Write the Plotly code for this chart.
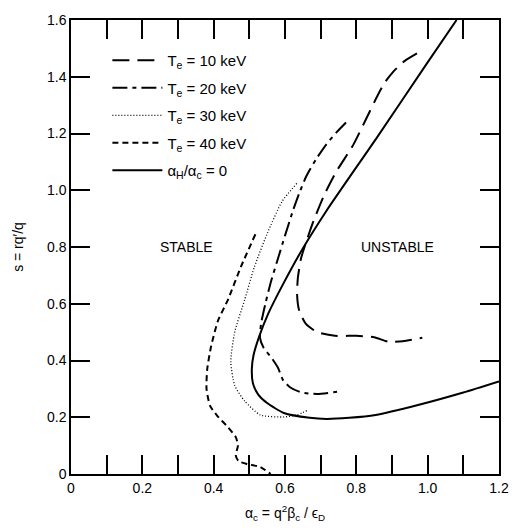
import plotly.graph_objects as go

# Stability boundaries in the (alpha_c, s) plane
te10_alpha = [0.970, 0.935, 0.905, 0.880, 0.860, 0.827, 0.791, 0.744, 0.711, 0.680, 0.660, 0.645,
              0.636, 0.634, 0.640, 0.658, 0.690, 0.740, 0.800, 0.850, 0.890, 0.930, 0.985]
te10_s = [1.482, 1.455, 1.420, 1.380, 1.335, 1.250, 1.159, 1.066, 0.986, 0.892, 0.820, 0.760,
          0.690, 0.630, 0.575, 0.530, 0.500, 0.487, 0.487, 0.482, 0.466, 0.468, 0.480]

te20_alpha = [0.771, 0.745, 0.715, 0.688, 0.660, 0.640, 0.622, 0.600, 0.578, 0.560, 0.545,
              0.533, 0.530, 0.540, 0.562, 0.580, 0.595, 0.615, 0.645, 0.690, 0.760]
te20_s = [1.239, 1.205, 1.160, 1.111, 1.050, 0.990, 0.927, 0.840, 0.750, 0.675, 0.600,
          0.530, 0.480, 0.445, 0.410, 0.375, 0.330, 0.305, 0.288, 0.282, 0.292]

te30_alpha = [0.633, 0.592, 0.550, 0.514, 0.487, 0.459, 0.448, 0.459, 0.487, 0.531, 0.597, 0.633, 0.666]
te30_s = [1.024, 0.961, 0.847, 0.729, 0.614, 0.500, 0.396, 0.312, 0.257, 0.208, 0.201, 0.208, 0.226]

te40_alpha = [0.517, 0.476, 0.440, 0.412, 0.393, 0.382, 0.380, 0.390, 0.410, 0.440, 0.462,
              0.468, 0.462, 0.470, 0.495, 0.530, 0.560]
te40_s = [0.845, 0.729, 0.614, 0.540, 0.451, 0.370, 0.300, 0.240, 0.205, 0.165, 0.130,
          0.100, 0.066, 0.045, 0.035, 0.025, 0.000]

ideal_alpha = [1.081, 0.998, 0.860, 0.716, 0.650, 0.595, 0.553, 0.528, 0.512, 0.507, 0.510,
               0.525, 0.550, 0.597, 0.669, 0.716, 0.780, 0.854, 0.973, 1.100, 1.200]
ideal_s = [1.600, 1.447, 1.190, 0.927, 0.795, 0.670, 0.565, 0.486, 0.420, 0.370, 0.320,
           0.280, 0.250, 0.215, 0.198, 0.194, 0.198, 0.208, 0.243, 0.287, 0.326]

x_ticks = [round(0.1 * i, 1) for i in range(13)]
x_ticktext = ["0", "", "0.2", "", "0.4", "", "0.6", "", "0.8", "", "1.0", "", "1.2"]
y_ticks = [round(0.2 * i, 1) for i in range(9)]
y_ticktext = ["0", "0.2", "0.4", "0.6", "0.8", "1.0", "1.2", "1.4", "1.6"]

FONT = "Liberation Sans"
INK = "black"

series = [
    ("T<sub>e</sub> = 10 keV", te10_alpha, te10_s, dict(width=2, dash="17px,8px")),
    ("T<sub>e</sub> = 20 keV", te20_alpha, te20_s, dict(width=2, dash="15px,5px,4px,5px")),
    ("T<sub>e</sub> = 30 keV", te30_alpha, te30_s, dict(width=1.3, dash="1px,2px")),
    ("T<sub>e</sub> = 40 keV", te40_alpha, te40_s, dict(width=2, dash="6px,4px")),
    ("α<sub>H</sub>/α<sub>c</sub> = 0", ideal_alpha, ideal_s, dict(width=2, dash="solid")),
]

fig = go.Figure()
for i, (name, xs, ys, line) in enumerate(series):
    fig.add_trace(go.Scatter(
        x=xs, y=ys, mode="lines", name=name, legendgroup=f"g{i}",
        line=dict(color=INK, shape="spline", smoothing=0.6, **line),
    ))

fig.add_annotation(x=0.325, y=0.80, text="STABLE", showarrow=False,
                   font=dict(family=FONT, size=14, color=INK))
fig.add_annotation(x=0.915, y=0.80, text="UNSTABLE", showarrow=False,
                   font=dict(family=FONT, size=14, color=INK))

axis_common = dict(
    showgrid=False, zeroline=False, showline=True, linecolor=INK, linewidth=1.5,
    mirror="ticks", ticks="inside", ticklen=19, tickwidth=1.5, tickcolor=INK,
    tickfont=dict(family=FONT, size=14, color=INK),
)

fig.update_layout(
    width=521, height=531,
    margin=dict(l=71, r=16, t=16, b=54),
    paper_bgcolor="white", plot_bgcolor="white",
    showlegend=True,
    legend=dict(x=0.085, y=0.947, xanchor="left", yanchor="top",
                bgcolor="rgba(0,0,0,0)", tracegroupgap=5, itemwidth=50,
                font=dict(family=FONT, size=15, color=INK)),
    xaxis=dict(range=[0, 1.2], tickmode="array", tickvals=x_ticks, ticktext=x_ticktext,
               title=dict(text="α<sub>c</sub> = q<sup>2</sup>β<sub>c</sub> / ϵ<sub>D</sub>",
                          font=dict(family=FONT, size=14, color=INK), standoff=14),
               **axis_common),
    yaxis=dict(range=[0, 1.6], tickmode="array", tickvals=y_ticks, ticktext=y_ticktext,
               title=dict(text="s = rq′/q", font=dict(family=FONT, size=14, color=INK), standoff=20),
               **axis_common),
)

fig.write_html("out.html")
